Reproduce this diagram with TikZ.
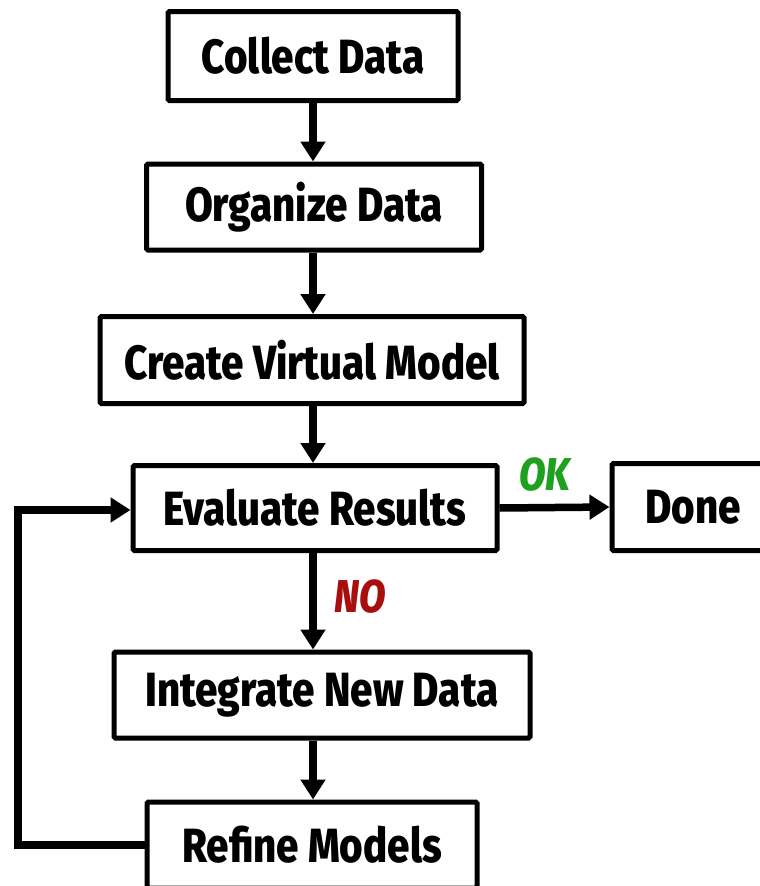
\documentclass[tikz,border=0pt]{standalone}
\usepackage{fontspec}
\setmainfont{Fira Sans}[FakeStretch=0.84, BoldFont={Fira Sans ExtraBold}, BoldItalicFont={Fira Sans ExtraBold Italic}]
\usetikzlibrary{arrows.meta}
\definecolor{okgreen}{HTML}{1FA01F}
\definecolor{nored}{HTML}{A80E0E}
\tikzset{
  box/.style={draw=black, line width=5pt, rounded corners=1.5pt, fill=white,
    inner sep=0pt, font=\fontsize{48}{52}\selectfont\bfseries, text=black},
  conn/.style={line width=7.5pt, -{Triangle[width=24pt,length=20pt]}},
  tag/.style={font=\fontsize{46}{50}\selectfont\bfseries\itshape}
}
\begin{document}
\begin{tikzpicture}[x=1pt,y=-1pt]
\useasboundingbox (0,0) rectangle (760,886);
\node[box, minimum width=290pt, minimum height=89pt] (collect) at (313,56) {Collect Data};
\node[box, minimum width=335pt, minimum height=86pt] (organize) at (314,207) {Organize Data};
\node[box, minimum width=424pt, minimum height=87pt] (create) at (312,360) {Create Virtual Model};
\node[box, minimum width=364pt, minimum height=85pt] (evaluate) at (315,508) {Evaluate Results};
\node[box, minimum width=162pt, minimum height=87pt] (done) at (693,507) {Done};
\node[box, minimum width=416pt, minimum height=86pt] (integrate) at (322,695) {Integrate New Data};
\node[box, minimum width=330pt, minimum height=86pt] (refine) at (312,845) {Refine Models};
\coordinate (lb) at (18,845);
\coordinate (lt) at (18,510);
\draw[conn] (collect.south -| 313,0) -- (organize.north -| 313,0);
\draw[conn] (organize.south -| 313,0) -- (create.north -| 313,0);
\draw[conn] (create.south -| 313,0) -- (evaluate.north -| 313,0);
\draw[conn] (evaluate.south -| 313,0) -- (integrate.north -| 313,0);
\draw[conn] (integrate.south -| 313,0) -- (refine.north -| 313,0);
\draw[conn] (evaluate.east) -- (done.west);
\draw[conn, line cap=rect] (refine.west) -- (lb) -- (lt) -- (evaluate.west |- lt);
\node[tag, text=okgreen] (ok) at (545,475) {OK};
\node[tag, text=nored] (no) at (360,597) {NO};
\end{tikzpicture}
\end{document}
